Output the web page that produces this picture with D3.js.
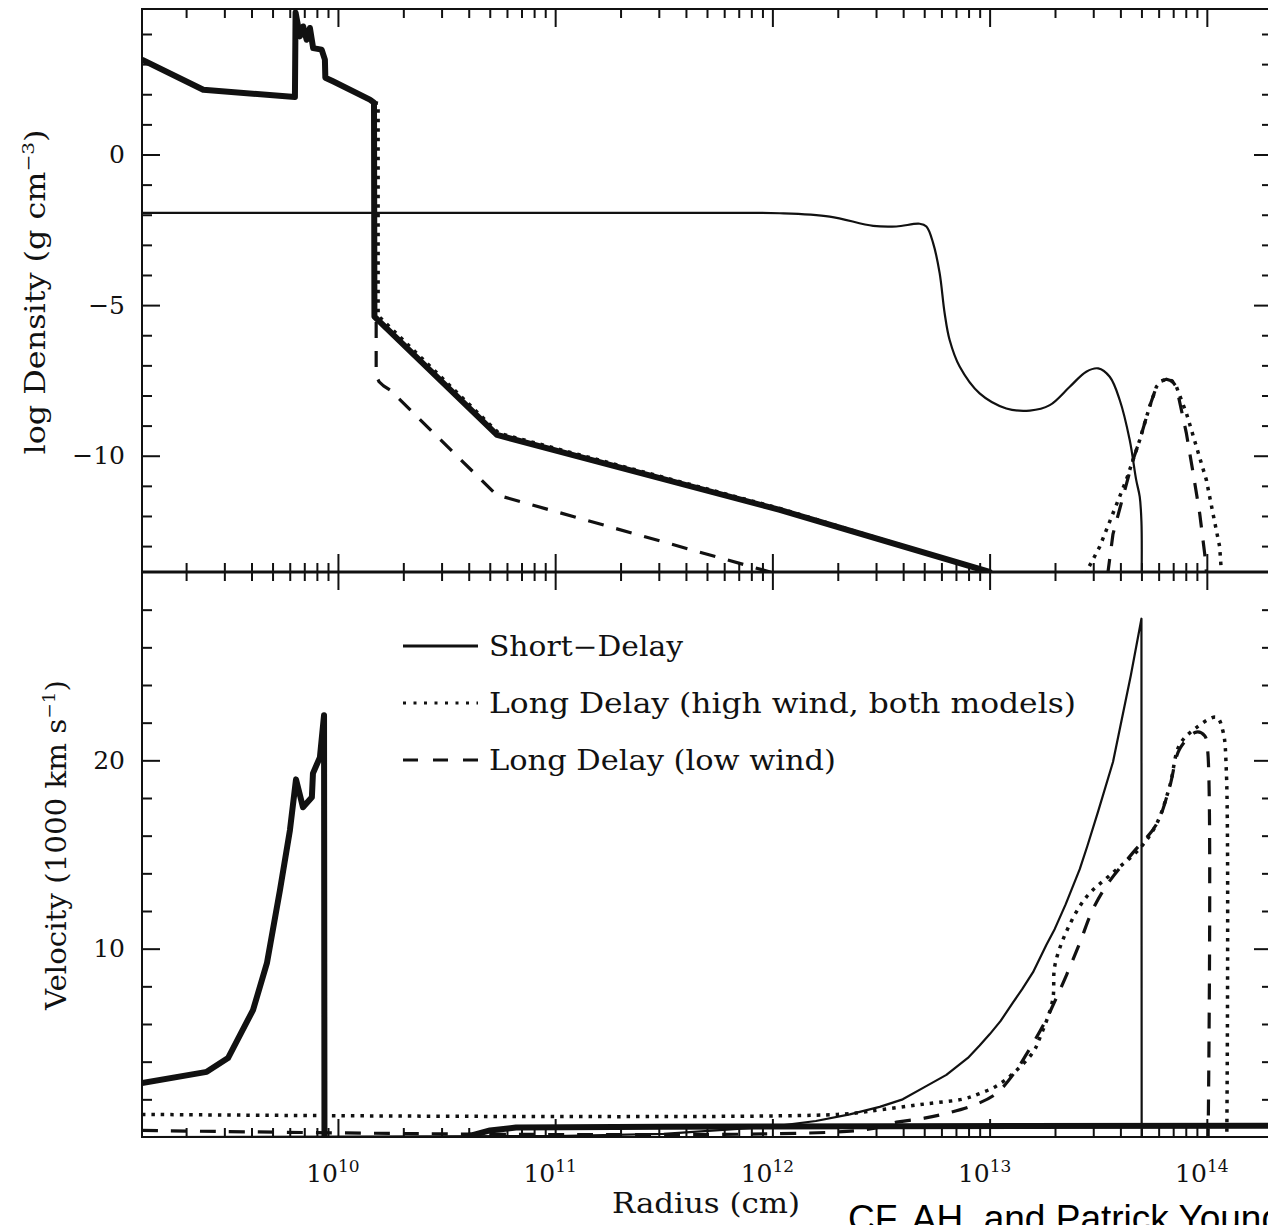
<!DOCTYPE html>
<html>
<head>
<meta charset="utf-8">
<script src="https://cdn.jsdelivr.net/npm/d3@7"></script>
<style>
  body { margin: 0; background: #fff; }
  svg { display: block; }
</style>
</head>
<body>
<svg id="chart" width="1268" height="1225"></svg>
<script>
// ---- data: [log10 radius (cm), value] ; null = gap in the line ----

// top panel: log density (g cm^-3)
const densityCore = [
  [9.098, 3.15], [9.380, 2.15], [9.802, 1.91], [9.805, 4.71], [9.825, 3.92],
  [9.840, 4.25], [9.856, 3.81], [9.871, 4.20], [9.886, 3.53], [9.925, 3.48],
  [9.940, 3.15], [9.942, 2.55], [9.977, 2.43], [10.147, 1.82], [10.166, 1.72],
  [10.168, -5.38], [10.732, -9.31], [12.034, -11.80], [13.000, -13.86], [13.010, -13.95]
];
const densityShort = [
  [9.098, -1.94], [11.800, -1.94], [12.034, -1.95], [12.264, -2.06], [12.464, -2.37],
  [12.571, -2.39], [12.678, -2.30], [12.709, -2.39], [12.740, -2.94], [12.770, -3.94],
  [12.793, -5.27], [12.816, -6.16], [12.862, -7.04], [12.954, -7.93], [13.077, -8.43],
  [13.185, -8.50], [13.277, -8.32], [13.369, -7.71], [13.445, -7.21], [13.500, -7.10],
  [13.553, -7.38], [13.599, -8.15], [13.645, -9.48], [13.675, -10.81], [13.691, -11.36],
  [13.699, -12.20], [13.700, -13.95]
];
const densityHighWind = [
  [9.098, 3.15], [9.380, 2.15], [9.802, 1.91], [9.805, 4.71], [9.825, 3.92],
  [9.840, 4.25], [9.856, 3.81], [9.871, 4.20], [9.886, 3.53], [9.925, 3.48],
  [9.940, 3.15], [9.942, 2.55], [9.977, 2.43], [10.147, 1.82], [10.166, 1.72],
  [10.185, 1.70], [10.185, -5.35], [10.740, -9.25], [12.034, -11.75], [13.000, -13.86],
  [13.010, -13.95],
  [null, null],
  [13.440, -13.95], [13.445, -13.86], [13.507, -13.02], [13.568, -11.91], [13.629, -10.81],
  [13.691, -9.48], [13.737, -8.36], [13.768, -7.71], [13.790, -7.52], [13.814, -7.46],
  [13.840, -7.52], [13.860, -7.71], [13.906, -8.59], [13.952, -9.70], [13.998, -10.81],
  [14.028, -11.91], [14.059, -13.02], [14.067, -13.86], [14.070, -13.95]
];
const densityLowWind = [
  [9.098, 3.15], [9.380, 2.15], [9.802, 1.91], [9.805, 4.71], [9.825, 3.92],
  [9.840, 4.25], [9.856, 3.81], [9.871, 4.20], [9.886, 3.53], [9.925, 3.48],
  [9.940, 3.15], [9.942, 2.55], [9.977, 2.43], [10.147, 1.82], [10.166, 1.72],
  [10.168, -5.38], [10.176, -5.40], [10.176, -7.35], [10.190, -7.55], [10.210, -7.68],
  [10.240, -7.82], [10.730, -11.30], [11.990, -13.86], [12.000, -13.95],
  [null, null],
  [13.540, -13.95], [13.545, -13.86], [13.568, -12.60], [13.614, -11.36], [13.660, -10.14],
  [13.691, -9.48], [13.737, -8.36], [13.768, -7.71], [13.790, -7.52], [13.814, -7.46],
  [13.840, -7.52], [13.860, -7.71], [13.906, -9.26], [13.937, -10.58], [13.967, -11.91],
  [13.990, -13.24], [13.998, -13.86], [14.000, -13.95]
];

// bottom panel: velocity (1000 km/s)
const velocityCore = [
  [9.098, 2.86], [9.396, 3.46], [9.494, 4.19], [9.609, 6.74], [9.673, 9.23],
  [9.733, 13.10], [9.779, 16.29], [9.807, 18.99], [9.839, 17.51], [9.880, 18.04],
  [9.885, 19.31], [9.917, 20.16], [9.936, 22.39], [9.938, 0],
  [null, null],
  [10.570, 0.00], [10.620, 0.10], [10.700, 0.35], [10.820, 0.50], [11.500, 0.55], [14.300, 0.60]
];
const velocityShort = [
  [9.098, 0.00], [11.000, 0.05], [11.500, 0.17], [12.000, 0.55], [12.200, 0.85],
  [12.356, 1.20], [12.494, 1.60], [12.600, 2.00], [12.700, 2.65], [12.801, 3.30],
  [12.900, 4.20], [12.954, 4.86], [13.000, 5.45], [13.050, 6.15], [13.108, 7.15],
  [13.150, 7.85], [13.200, 8.75], [13.261, 10.20], [13.300, 11.05], [13.350, 12.35],
  [13.415, 14.22], [13.450, 15.45], [13.500, 17.30], [13.568, 19.91], [13.600, 21.70],
  [13.650, 24.50], [13.699, 27.52], [13.700, 0]
];
const velocityHighWind = [
  [9.098, 1.20], [12.300, 1.20], [12.500, 1.45], [12.700, 1.75], [12.880, 2.02],
  [12.950, 2.29], [13.030, 2.70], [13.110, 3.39], [13.200, 4.50], [13.230, 5.23],
  [13.290, 7.25], [13.300, 9.08], [13.354, 10.92], [13.446, 12.75], [13.568, 14.04],
  [13.691, 15.32], [13.768, 16.61], [13.829, 18.62], [13.875, 20.83], [13.952, 21.74],
  [14.044, 22.29], [14.074, 21.56], [14.090, 19.36], [14.092, 0]
];
const velocityLowWind = [
  [9.098, 0.35], [12.400, 0.35], [12.580, 0.80], [12.700, 1.00], [12.800, 1.25],
  [12.930, 1.70], [13.030, 2.30], [13.120, 3.50], [13.170, 4.40], [13.250, 6.00],
  [13.300, 7.20], [13.354, 8.60], [13.415, 10.30], [13.476, 12.10], [13.553, 13.60],
  [13.660, 15.10], [13.768, 16.60], [13.829, 18.60], [13.875, 20.60], [13.952, 21.50],
  [13.990, 21.30], [14.004, 20.50], [14.006, 0]
];

const legendLabels = ['Short\u2212Delay', 'Long Delay (high wind, both models)', 'Long Delay (low wind)'];
const decades = [10, 11, 12, 13, 14];
const densityMajor = [-10, -5, 0];
const densityMinor = d3.range(-13, 5);
const velocityMajor = [10, 20];
const velocityMinor = d3.range(2, 30, 2);

// ---- layout ----
const X0 = 142, X1 = 1272, YT = 9, YM = 572, YB = 1137;
const serif = '"DejaVu Serif", "Liberation Serif", serif';
const ink = '#111';

const svg = d3.select('#chart');

const x = d3.scaleLog().domain([10 ** 9.098, 10 ** 14.3]).range([X0, X1]);
const yDen = d3.scaleLinear().domain([-13.86, 4.83]).range([YM, YT]);
const yVel = d3.scaleLinear().domain([0, 30]).range([YB, YM]);

const xMinor = [], xMajor = [];
for (let n = 9; n <= 14; n++) {
  for (let k = 1; k <= 9; k++) {
    const v = k * 10 ** n;
    if (v < x.domain()[0] || v > x.domain()[1]) continue;
    (k === 1 ? xMajor : xMinor).push(v);
  }
}

// clip regions per panel
const defs = svg.append('defs');
defs.append('clipPath').attr('id', 'clipTop')
  .append('rect').attr('x', X0).attr('y', YT).attr('width', X1 - X0).attr('height', YM - YT);
defs.append('clipPath').attr('id', 'clipBot')
  .append('rect').attr('x', X0).attr('y', YM).attr('width', X1 - X0).attr('height', YB - YM);

// ---- axes (ticks only; frame drawn separately) ----
function styleAxis(g) {
  g.select('.domain').remove();
  g.selectAll('line').attr('stroke', ink).attr('stroke-width', 2);
  g.attr('font-family', serif).attr('font-size', 25);
  g.selectAll('text').attr('fill', ink);
}

function xTicks(axisFn, y, size) {
  svg.append('g').attr('transform', `translate(0,${y})`)
    .call(axisFn(x).tickValues(xMinor).tickSizeInner(-size).tickSizeOuter(0).tickFormat(''))
    .call(styleAxis);
  svg.append('g').attr('transform', `translate(0,${y})`)
    .call(axisFn(x).tickValues(xMajor).tickSizeInner(-size * 2).tickSizeOuter(0).tickFormat(''))
    .call(styleAxis);
}
xTicks(d3.axisTop, YT, 9);
xTicks(d3.axisBottom, YM, 9);
xTicks(d3.axisTop, YM, 9);
xTicks(d3.axisBottom, YB, 9);

function yTicks(scale, major, minor) {
  const fmt = d => d < 0 ? '\u2212' + (-d) : String(d);
  const minorOnly = minor.filter(v => !major.includes(v));
  svg.append('g').attr('transform', `translate(${X0},0)`)
    .call(d3.axisLeft(scale).tickValues(minorOnly).tickSizeInner(-10).tickSizeOuter(0).tickFormat(''))
    .call(styleAxis);
  svg.append('g').attr('transform', `translate(${X0},0)`)
    .call(d3.axisLeft(scale).tickValues(major).tickSizeInner(-18).tickSizeOuter(0)
      .tickPadding(17).tickFormat(fmt))
    .call(styleAxis);
  svg.append('g').attr('transform', `translate(${X1},0)`)
    .call(d3.axisRight(scale).tickValues(minorOnly).tickSizeInner(-10).tickSizeOuter(0).tickFormat(''))
    .call(styleAxis);
  svg.append('g').attr('transform', `translate(${X1},0)`)
    .call(d3.axisRight(scale).tickValues(major).tickSizeInner(-18).tickSizeOuter(0).tickFormat(''))
    .call(styleAxis);
}
yTicks(yDen, densityMajor, densityMinor);
yTicks(yVel, velocityMajor, velocityMinor);

// frame
svg.append('rect').attr('x', X0).attr('y', YT).attr('width', X1 - X0).attr('height', YB - YT)
  .attr('fill', 'none').attr('stroke', ink).attr('stroke-width', 2);
svg.append('line').attr('x1', X0).attr('x2', X1).attr('y1', YM).attr('y2', YM)
  .attr('stroke', ink).attr('stroke-width', 3);

// decade labels 10^n
const xl = svg.append('g').attr('font-family', serif).attr('fill', ink);
decades.forEach(n => {
  const t = xl.append('text').attr('x', x(10 ** n) - 5).attr('y', 1182)
    .attr('text-anchor', 'middle').attr('font-size', 25);
  t.append('tspan').text('10');
  t.append('tspan').attr('font-size', 17).attr('dy', -10).text(n);
});

// ---- series ----
const smooth = d3.curveCatmullRom.alpha(0.5);
const styles = {
  core:   { width: 6, dash: null, curve: d3.curveLinear },
  solid:  { width: 2.2, dash: null, curve: d3.curveLinear },
  smooth: { width: 2.2, dash: null, curve: smooth },
  dot:    { width: 3.5, dash: '3.5 6', curve: d3.curveLinear },
  dash:   { width: 3.2, dash: '16 13', curve: d3.curveLinear },
  dotS:   { width: 3.5, dash: '3.5 6', curve: smooth },
  dashS:  { width: 3.2, dash: '16 13', curve: smooth }
};

function drawSeries(data, yScale, clip, style) {
  const line = d3.line()
    .defined(d => d[0] !== null)
    .curve(style.curve)
    .x(d => x(10 ** d[0]))
    .y(d => yScale(d[1]));
  svg.append('path').datum(data)
    .attr('clip-path', `url(#${clip})`)
    .attr('d', line)
    .attr('fill', 'none')
    .attr('stroke', ink)
    .attr('stroke-width', style.width)
    .attr('stroke-linejoin', 'round')
    .attr('stroke-dasharray', style.dash);
}

drawSeries(densityShort, yDen, 'clipTop', styles.smooth);
drawSeries(densityLowWind, yDen, 'clipTop', styles.dash);
drawSeries(densityHighWind, yDen, 'clipTop', styles.dot);
drawSeries(densityCore, yDen, 'clipTop', styles.core);

drawSeries(velocityLowWind, yVel, 'clipBot', styles.dashS);
drawSeries(velocityHighWind, yVel, 'clipBot', styles.dotS);
drawSeries(velocityShort, yVel, 'clipBot', styles.solid);
drawSeries(velocityCore, yVel, 'clipBot', styles.core);

// ---- legend ----
const legendStyles = [
  { width: 3, dash: null },
  { width: 3, dash: '3 7.5' },
  { width: 3, dash: '15 15' }
];
const legendWidths = [194, 587, 347];
const lg = svg.append('g').attr('font-family', serif).attr('fill', ink);
legendLabels.forEach((label, i) => {
  const y = 646 + i * 57;
  lg.append('line').attr('x1', 403).attr('x2', 478).attr('y1', y).attr('y2', y)
    .attr('stroke', ink).attr('stroke-width', legendStyles[i].width)
    .attr('stroke-dasharray', legendStyles[i].dash);
  lg.append('text').attr('x', 489).attr('y', y + 10).attr('font-size', 27)
    .attr('textLength', legendWidths[i]).attr('lengthAdjust', 'spacingAndGlyphs')
    .text(label);
});

// ---- axis titles ----
function rotatedTitle(cx, cy, main, sup, len) {
  const t = svg.append('text').attr('font-family', serif).attr('font-size', 27).attr('fill', ink)
    .attr('text-anchor', 'middle').attr('transform', `translate(${cx},${cy}) rotate(-90)`)
    .attr('dy', '0.35em').attr('textLength', len).attr('lengthAdjust', 'spacingAndGlyphs');
  t.append('tspan').text(main);
  t.append('tspan').attr('font-size', 17).attr('dy', -11).text(sup);
  t.append('tspan').attr('dy', 11).text(')');
}
rotatedTitle(36, 292, 'log Density (g cm', '\u22123', 325);
rotatedTitle(57, 845, 'Velocity (1000 km s', '\u22121', 330);

svg.append('text').attr('x', 706).attr('y', 1213).attr('text-anchor', 'middle')
  .attr('font-family', serif).attr('font-size', 27).attr('fill', ink)
  .attr('textLength', 188).attr('lengthAdjust', 'spacingAndGlyphs').text('Radius (cm)');

svg.append('text').attr('x', 848).attr('y', 1231)
  .attr('font-family', '"Liberation Sans", Arial, sans-serif').attr('font-size', 37).attr('fill', '#000')
  .text('CF, AH, and Patrick Young');
</script>
</body>
</html>
